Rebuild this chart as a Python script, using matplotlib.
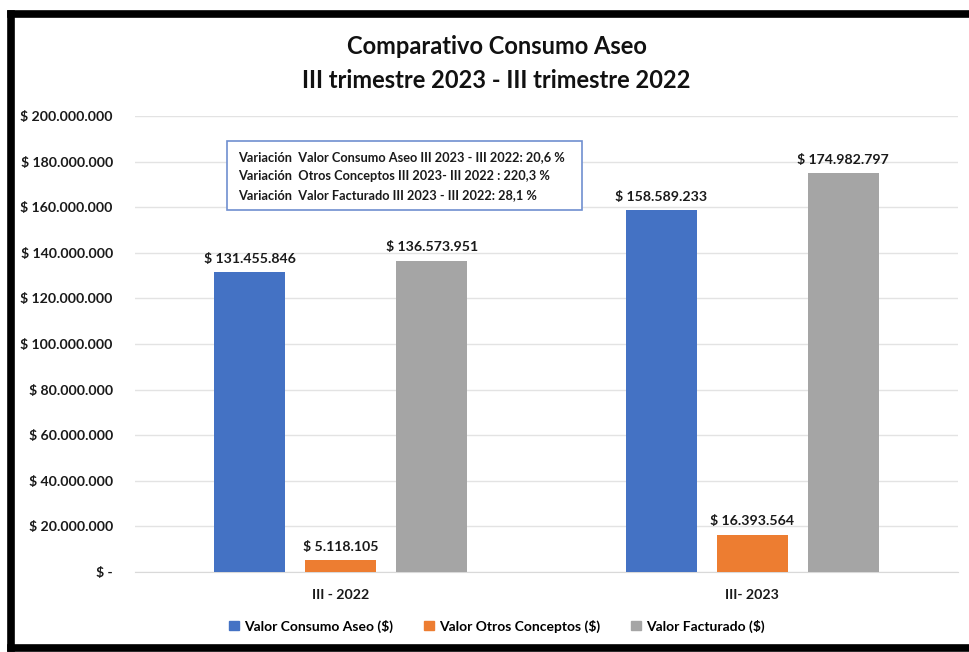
import matplotlib.pyplot as plt
import matplotlib.patches as mpatches
from matplotlib.lines import Line2D
from matplotlib.ticker import FuncFormatter
import numpy as np

plt.rcParams["font.family"] = ["Lato", "DejaVu Sans"]

periods = ["III - 2022", "III- 2023"]
consumo_aseo = [131455846, 158589233]
otros_conceptos = [5118105, 16393564]
valor_facturado = [136573951, 174982797]
series_names = ["Valor Consumo Aseo ($)", "Valor Otros Conceptos ($)", "Valor Facturado ($)"]
colors = ["#4472C4", "#ED7D31", "#A5A5A5"]
variation_lines = [
    "Variación  Valor Consumo Aseo III 2023 - III 2022: 20,6 %",
    "Variación  Otros Conceptos III 2023- III 2022 : 220,3 %",
    "Variación  Valor Facturado III 2023 - III 2022: 28,1 %",
]


def pesos(v):
    if v == 0:
        return "$ -"
    return "$ " + f"{int(round(v)):,}".replace(",", ".")


fig = plt.figure(figsize=(9.7, 6.52), dpi=100)
ax = fig.add_axes([135 / 970, 80 / 652, 823 / 970, 456 / 652])

x = np.arange(len(periods))
width = 0.173
step = 0.221
for i, (vals, name, col) in enumerate(zip([consumo_aseo, otros_conceptos, valor_facturado], series_names, colors)):
    pos = x + (i - 1) * step
    ax.bar(pos, vals, width=width, color=col, label=name, zorder=3)
    for p, v in zip(pos, vals):
        ax.text(p, v + 3.2e6, pesos(v), ha="center", va="bottom",
                fontsize=10.2, fontweight="bold", color="#1a1a1a", zorder=4)

ax.set_xlim(-0.5, 1.5)
ax.set_ylim(0, 200000000)
ax.set_yticks(np.arange(0, 200000001, 20000000))
ax.yaxis.set_major_formatter(FuncFormatter(lambda v, _: pesos(v)))
ax.set_xticks(x)
ax.set_xticklabels(periods)
ax.tick_params(axis="both", length=0, labelsize=10.2, labelcolor="#1a1a1a")
ax.tick_params(axis="y", pad=16)
ax.tick_params(axis="x", pad=12)
for lbl in ax.get_xticklabels() + ax.get_yticklabels():
    lbl.set_fontweight("bold")
ax.grid(axis="y", color="#E3E3E3", linewidth=1, zorder=0)
for s in ["top", "right", "left"]:
    ax.spines[s].set_visible(False)
ax.spines["bottom"].set_color("#D9D9D9")

fig.text(497 / 970, 1 - 47 / 652, "Comparativo Consumo Aseo", ha="center", va="center",
         fontsize=17, fontweight="bold", color="#111111")
fig.text(496 / 970, 1 - 80 / 652, "III trimestre 2023 - III trimestre 2022", ha="center", va="center",
         fontsize=17, fontweight="bold", color="#111111")

# variation summary box
box = mpatches.Rectangle((227 / 970, 1 - 210 / 652), 355 / 970, 69 / 652, transform=fig.transFigure,
                         facecolor="white", edgecolor="#6F8FD0", linewidth=1.2, zorder=5)
fig.patches.append(box)
for k, line in enumerate(variation_lines):
    fig.text(238 / 970, 1 - (157 + k * 19) / 652, line, ha="left", va="center",
             fontsize=9.2, fontweight="bold", color="#1a1a1a", zorder=6)

handles = [mpatches.Patch(color=c, label=n) for c, n in zip(colors, series_names)]
fig.legend(handles=handles, loc="center", bbox_to_anchor=(497 / 970, 1 - 626 / 652), ncol=3,
           frameon=False, handlelength=0.7, handleheight=0.7, columnspacing=2.2,
           handletextpad=0.4, prop={"weight": "bold", "size": 10})

# outer black frame: top, left and bottom edges only
left, top, bottom = 11 / 970, 1 - 14 / 652, 1 - 648 / 652
for xs, ys in [([left, 1.0], [top, top]), ([left, left], [bottom, top]), ([left, 1.0], [bottom, bottom])]:
    fig.add_artist(Line2D(xs, ys, transform=fig.transFigure, color="black",
                          linewidth=5.5, solid_capstyle="projecting", zorder=10))

fig.savefig("out.png", dpi=100)
